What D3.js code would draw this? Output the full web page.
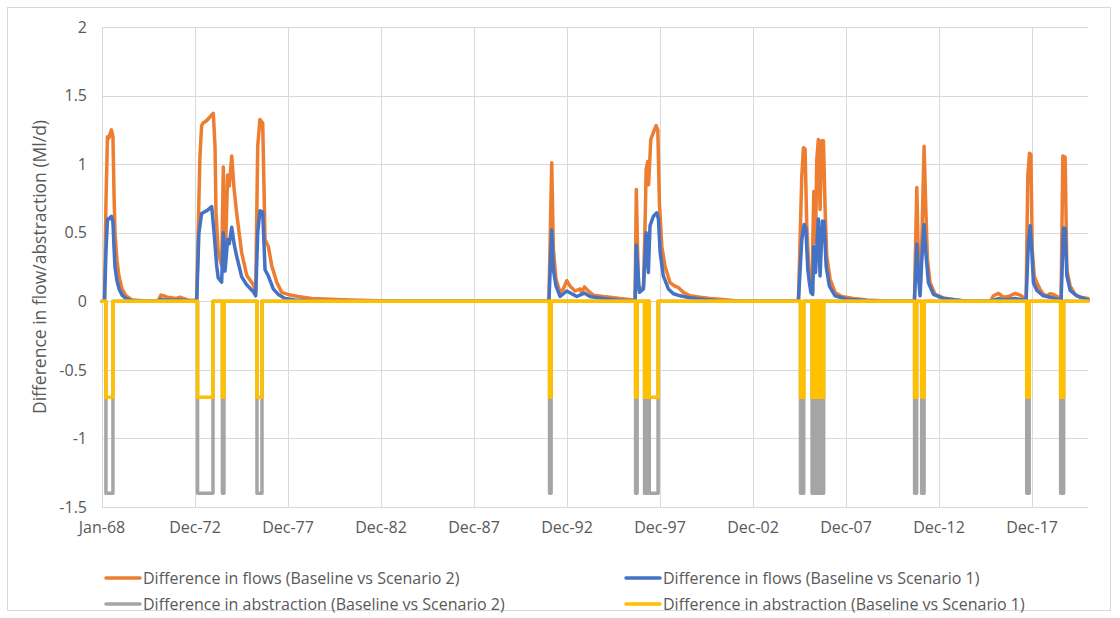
<!DOCTYPE html>
<html>
<head>
<meta charset="utf-8">
<script src="https://cdn.jsdelivr.net/npm/d3@7"></script>
<style>
  body { margin: 0; background: #fff; }
  svg { display: block; }
  text { font-family: "Open Sans", "Noto Sans", sans-serif; fill: #595959; }
</style>
</head>
<body>
<svg id="chart" width="1120" height="618"></svg>
<script>
// Difference in flows (Baseline vs Scenario 2), Ml/d
const flowScenario2 = [
  ["1968-01-01", 0], ["1968-02-19", 0], ["1968-03-18", 0.7], ["1968-04-17", 1.2], ["1968-05-16", 1.19],
  ["1968-06-05", 1.22], ["1968-07-04", 1.25], ["1968-08-03", 1.2], ["1968-08-23", 0.8], ["1968-09-12", 0.5],
  ["1968-10-21", 0.3], ["1968-12-01", 0.18], ["1969-01-28", 0.09], ["1969-04-15", 0.04], ["1969-08-11", 0.01],
  ["1970-08-01", 0], ["1971-01-04", 0], ["1971-03-03", 0.045], ["1971-05-01", 0.04], ["1971-06-28", 0.03],
  ["1971-10-05", 0.025], ["1971-12-22", 0.02], ["1972-03-10", 0.03], ["1972-05-28", 0.02], ["1972-08-15", 0.01],
  ["1972-12-20", 0.005], ["1973-02-03", 0.02], ["1973-03-18", 0.75], ["1973-04-06", 1.05], ["1973-05-10", 1.28],
  ["1973-06-05", 1.3], ["1973-07-24", 1.31], ["1973-09-18", 1.33], ["1973-11-24", 1.36], ["1973-12-25", 1.37],
  ["1974-01-28", 1.13], ["1974-02-16", 0.65], ["1974-04-01", 0.36], ["1974-06-07", 0.26], ["1974-07-10", 0.98],
  ["1974-08-12", 0.25], ["1974-10-03", 0.92], ["1974-11-04", 0.84], ["1974-12-22", 1.06], ["1975-02-06", 0.82],
  ["1975-03-28", 0.645], ["1975-07-04", 0.355], ["1975-10-12", 0.19], ["1976-02-19", 0.12], ["1976-04-06", 0.07],
  ["1976-05-15", 1.13], ["1976-06-28", 1.325], ["1976-08-21", 1.3], ["1976-10-06", 0.45], ["1976-12-09", 0.4],
  ["1977-02-15", 0.26], ["1977-05-22", 0.14], ["1977-08-28", 0.065], ["1978-01-01", 0.05], ["1978-07-15", 0.035],
  ["1979-04-09", 0.02], ["1981-05-01", 0.01], ["1984-01-01", 0],
  ["1991-12-01", 0], ["1992-01-10", 0.02], ["1992-03-04", 1.01], ["1992-04-06", 0.38], ["1992-05-28", 0.16],
  ["1992-08-15", 0.065], ["1992-10-19", 0.09], ["1992-12-25", 0.15], ["1993-02-28", 0.11], ["1993-06-06", 0.075],
  ["1993-09-12", 0.09], ["1993-10-15", 0.06], ["1993-12-06", 0.105], ["1994-02-22", 0.075], ["1994-06-01", 0.045],
  ["1994-12-13", 0.035], ["1995-04-22", 0.03], ["1995-11-06", 0.02], ["1996-07-24", 0.01], ["1996-08-27", 0.01],
  ["1996-09-20", 0.815], ["1996-11-01", 0.09], ["1997-02-07", 0.1], ["1997-03-10", 0.55], ["1997-04-01", 0.96],
  ["1997-05-03", 1.02], ["1997-05-20", 0.85], ["1997-07-01", 1.18], ["1997-08-21", 1.23], ["1997-10-13", 1.28],
  ["1997-11-16", 1.25], ["1997-12-17", 0.72], ["1998-02-03", 0.4], ["1998-04-07", 0.255], ["1998-07-15", 0.135],
  ["1998-10-22", 0.11], ["1998-12-25", 0.1], ["1999-04-01", 0.065], ["1999-08-12", 0.04], ["2000-02-25", 0.03],
  ["2000-09-08", 0.02], ["2001-03-22", 0.015], ["2002-04-19", 0],
  ["2005-06-07", 0], ["2005-08-13", 0.91], ["2005-09-15", 1.12], ["2005-10-16", 1.11], ["2005-11-19", 0.55],
  ["2006-01-09", 0.135], ["2006-02-27", 0.075], ["2006-04-05", 0.8], ["2006-05-10", 0.43], ["2006-06-03", 1.03],
  ["2006-07-04", 1.18], ["2006-08-07", 0.67], ["2006-09-09", 1.17], ["2006-10-12", 1.17], ["2006-11-14", 0.67],
  ["2006-12-16", 0.33], ["2007-02-20", 0.16], ["2007-05-28", 0.065], ["2007-10-07", 0.035], ["2008-05-22", 0.02],
  ["2009-02-11", 0.01], ["2010-05-13", 0],
  ["2011-09-02", 0], ["2011-10-19", 0.83], ["2011-11-19", 0.305], ["2011-12-22", 0.075], ["2012-01-25", 0.43],
  ["2012-03-10", 1.13], ["2012-04-13", 0.67], ["2012-05-15", 0.305], ["2012-07-06", 0.135], ["2012-10-13", 0.05],
  ["2013-03-25", 0.025], ["2013-12-13", 0.01], ["2014-06-27", 0],
  ["2015-09-28", 0], ["2015-12-01", 0.04], ["2016-03-09", 0.058], ["2016-06-15", 0.03], ["2016-09-21", 0.035],
  ["2017-01-31", 0.058], ["2017-05-09", 0.045], ["2017-08-15", 0.02], ["2017-09-03", 0.02], ["2017-10-06", 0.91],
  ["2017-11-09", 1.08], ["2017-12-06", 1.07], ["2018-01-01", 0.38], ["2018-02-09", 0.185], ["2018-04-01", 0.135],
  ["2018-06-06", 0.087], ["2018-08-09", 0.05], ["2018-10-15", 0.04], ["2018-12-19", 0.055], ["2019-02-22", 0.05],
  ["2019-06-01", 0.03], ["2019-07-22", 0.02], ["2019-08-25", 1.06], ["2019-10-09", 1.05], ["2019-11-12", 0.23],
  ["2020-01-16", 0.11], ["2020-04-22", 0.05], ["2020-08-01", 0.03], ["2020-12-31", 0.02]
];

// Difference in flows (Baseline vs Scenario 1), Ml/d
const flowScenario1 = [
  ["1968-01-01", 0], ["1968-02-19", 0], ["1968-03-18", 0.35], ["1968-04-17", 0.6], ["1968-05-16", 0.6],
  ["1968-07-04", 0.62], ["1968-08-03", 0.58], ["1968-08-23", 0.4], ["1968-09-12", 0.25], ["1968-10-21", 0.15],
  ["1968-12-01", 0.09], ["1969-01-28", 0.045], ["1969-04-15", 0.02], ["1969-08-11", 0.005], ["1970-08-01", 0],
  ["1971-01-04", 0], ["1971-03-03", 0.015], ["1971-05-01", 0.012], ["1971-10-05", 0.008], ["1972-03-10", 0.01],
  ["1972-08-15", 0.004], ["1972-12-20", 0], ["1973-02-03", 0.01], ["1973-03-18", 0.5], ["1973-05-10", 0.64],
  ["1973-08-16", 0.66], ["1973-11-24", 0.69], ["1974-01-09", 0.5], ["1974-03-01", 0.26], ["1974-04-01", 0.17],
  ["1974-06-07", 0.14], ["1974-07-10", 0.5], ["1974-08-12", 0.22], ["1974-10-03", 0.45], ["1974-11-04", 0.42],
  ["1974-12-22", 0.54], ["1975-02-06", 0.42], ["1975-03-28", 0.33], ["1975-07-04", 0.18], ["1975-10-12", 0.12],
  ["1976-02-19", 0.07], ["1976-04-06", 0.04], ["1976-05-15", 0.5], ["1976-06-28", 0.66], ["1976-08-21", 0.65],
  ["1976-10-06", 0.23], ["1976-12-09", 0.185], ["1977-03-16", 0.09], ["1977-06-22", 0.05], ["1977-11-03", 0.02],
  ["1978-05-16", 0.01], ["1979-09-01", 0],
  ["1991-12-01", 0], ["1992-01-10", 0], ["1992-03-04", 0.52], ["1992-04-06", 0.23], ["1992-05-28", 0.11],
  ["1992-08-15", 0.035], ["1992-12-25", 0.075], ["1993-04-01", 0.055], ["1993-07-09", 0.035], ["1993-12-06", 0.06],
  ["1994-03-25", 0.035], ["1994-12-13", 0.02], ["1995-09-03", 0.01], ["1996-08-27", 0], ["1996-09-20", 0.41],
  ["1996-11-19", 0.065], ["1997-02-07", 0.09], ["1997-04-01", 0.5], ["1997-05-15", 0.21], ["1997-06-16", 0.55],
  ["1997-08-21", 0.62], ["1997-10-27", 0.645], ["1997-11-28", 0.6], ["1998-01-01", 0.355], ["1998-03-04", 0.185],
  ["1998-06-12", 0.09], ["1998-09-19", 0.055], ["1999-01-28", 0.04], ["1999-08-12", 0.025], ["2000-07-04", 0.012],
  ["2001-06-01", 0],
  ["2005-06-07", 0], ["2005-08-13", 0.45], ["2005-09-28", 0.56], ["2005-11-01", 0.53], ["2005-12-09", 0.23],
  ["2006-02-06", 0.065], ["2006-03-16", 0.05], ["2006-04-05", 0.4], ["2006-05-10", 0.21], ["2006-07-04", 0.6],
  ["2006-08-07", 0.185], ["2006-09-21", 0.585], ["2006-10-25", 0.58], ["2006-12-04", 0.255], ["2007-02-06", 0.11],
  ["2007-05-28", 0.04], ["2008-01-15", 0.015], ["2009-02-11", 0.005], ["2010-01-01", 0],
  ["2011-09-02", 0], ["2011-10-19", 0.415], ["2011-11-19", 0.185], ["2011-12-22", 0.04], ["2012-01-25", 0.3],
  ["2012-03-10", 0.56], ["2012-04-13", 0.355], ["2012-06-03", 0.135], ["2012-09-10", 0.05], ["2013-03-25", 0.02],
  ["2014-02-15", 0.005], ["2014-06-27", 0],
  ["2015-09-28", 0], ["2016-03-09", 0.02], ["2016-06-15", 0.01], ["2017-01-31", 0.02], ["2017-08-15", 0.008],
  ["2017-09-03", 0.008], ["2017-10-18", 0.43], ["2017-11-21", 0.55], ["2017-12-25", 0.36], ["2018-01-25", 0.135],
  ["2018-04-01", 0.08], ["2018-08-09", 0.04], ["2018-12-19", 0.03], ["2019-07-03", 0.01], ["2019-07-22", 0.01],
  ["2019-09-06", 0.535], ["2019-10-09", 0.53], ["2019-11-12", 0.185], ["2020-01-16", 0.08], ["2020-05-25", 0.04],
  ["2020-12-31", 0.01]
];

// Periods of reduced abstraction (start, end)
const abstractionPeriods = [
  ["1968-03-18", "1968-08-03"], ["1973-02-19", "1973-12-19"], ["1974-06-22", "1974-07-22"],
  ["1976-05-01", "1976-08-07"], ["1992-01-22", "1992-02-21"], ["1996-09-06", "1996-10-06"],
  ["1997-03-01", "1997-03-22"], ["1997-04-08", "1997-04-25"], ["1997-05-10", "1997-05-24"],
  ["1997-06-01", "1997-11-22"],
  ["2005-07-18", "2005-09-20"],
  ["2006-03-03", "2006-03-22"], ["2006-04-12", "2006-05-01"], ["2006-05-19", "2006-06-10"],
  ["2006-06-28", "2006-07-18"], ["2006-08-07", "2006-08-27"], ["2006-09-16", "2006-10-16"],
  ["2011-09-06", "2011-10-16"], ["2012-01-22", "2012-03-10"], ["2017-09-15", "2017-11-03"],
  ["2019-07-13", "2019-09-10"]
];
// Size of the abstraction reduction in each scenario (Ml/d)
const abstractionScenario2 = -1.4;
const abstractionScenario1 = -0.7;

const periodStart = "1968-01-01";
const periodEnd = "2020-12-31";
const xTickDates = ["1968-01-01", "1972-12-31", "1977-12-31", "1982-12-31", "1987-12-31", "1992-12-30",
                    "1997-12-30", "2002-12-30", "2007-12-30", "2012-12-29", "2017-12-29"];
const yTicks = [-1.5, -1, -0.5, 0, 0.5, 1, 1.5, 2];

const seriesNames = [
  "Difference in flows (Baseline vs Scenario 2)",
  "Difference in flows (Baseline vs Scenario 1)",
  "Difference in abstraction (Baseline vs Scenario 2)",
  "Difference in abstraction (Baseline vs Scenario 1)"
];
const seriesColors = ["#ED7D31", "#4472C4", "#A5A5A5", "#FFC000"];

const parse = d3.utcParse("%Y-%m-%d");
const fmt = d3.utcFormat("%b-%y");

// Abstraction difference as a step series: 0 outside the periods, the reduction inside them
function stepSeries(periods, level) {
  const pts = [[parse(periodStart), 0]];
  periods.forEach(([s, e]) => {
    pts.push([parse(s), 0], [parse(s), level], [parse(e), level], [parse(e), 0]);
  });
  pts.push([parse(periodEnd), 0]);
  return pts;
}

const series = [
  flowScenario2.map(([d, v]) => [parse(d), v]),
  flowScenario1.map(([d, v]) => [parse(d), v]),
  stepSeries(abstractionPeriods, abstractionScenario2),
  stepSeries(abstractionPeriods, abstractionScenario1)
];

const svg = d3.select("#chart");
const plot = { left: 102, right: 1088, top: 27, bottom: 507 };

// chart frame
svg.append("rect").attr("x", 7.5).attr("y", 7.5).attr("width", 1103).attr("height", 603)
  .attr("fill", "#fff").attr("stroke", "#D9D9D9").attr("stroke-width", 1);

const x = d3.scaleUtc().domain([parse(periodStart), parse(periodEnd)]).range([plot.left, plot.right]);
const y = d3.scaleLinear().domain([-1.5, 2]).range([plot.bottom, plot.top]);

// horizontal gridlines
svg.append("g").selectAll("line").data(yTicks).join("line")
  .attr("x1", plot.left).attr("x2", plot.right)
  .attr("y1", d => Math.round(y(d)) + 0.5).attr("y2", d => Math.round(y(d)) + 0.5)
  .attr("stroke", "#D9D9D9").attr("stroke-width", 1);

// vertical gridlines
const xTicks = xTickDates.map(parse);
svg.append("g").selectAll("line").data(xTicks).join("line")
  .attr("x1", d => Math.round(x(d)) + 0.5).attr("x2", d => Math.round(x(d)) + 0.5)
  .attr("y1", plot.top).attr("y2", plot.bottom)
  .attr("stroke", "#D9D9D9").attr("stroke-width", 1);

// y tick labels
svg.append("g").selectAll("text").data(yTicks).join("text")
  .attr("x", 87).attr("y", d => y(d)).attr("dy", "0.36em")
  .attr("text-anchor", "end").style("font-size", "16px")
  .text(d => String(d));

// x tick labels
svg.append("g").selectAll("text").data(xTicks).join("text")
  .attr("x", d => x(d)).attr("y", 527).attr("dy", "0.36em")
  .attr("text-anchor", "middle").style("font-size", "16px")
  .text(d => fmt(d));

// y axis title
svg.append("text")
  .attr("transform", `translate(40,${(plot.top + plot.bottom) / 2}) rotate(-90)`)
  .attr("text-anchor", "middle").attr("dy", "0.36em").style("font-size", "17.5px")
  .text("Difference in flow/abstraction (Ml/d)");

// series lines
const line = d3.line().x(d => x(d[0])).y(d => y(d[1]));
svg.append("g").selectAll("path").data(series).join("path")
  .attr("d", line)
  .attr("fill", "none")
  .attr("stroke", (d, i) => seriesColors[i])
  .attr("stroke-width", 3.5)
  .attr("stroke-linejoin", "round")
  .attr("stroke-linecap", "round");

// legend
const legendPos = [[106, 578], [626, 578], [106, 604], [626, 604]];
const legend = svg.append("g").selectAll("g").data(seriesNames).join("g")
  .attr("transform", (d, i) => `translate(${legendPos[i][0]},${legendPos[i][1]})`);
legend.append("line").attr("x1", 0).attr("x2", 34).attr("y1", 0).attr("y2", 0)
  .attr("stroke", (d, i) => seriesColors[i]).attr("stroke-width", 3.5).attr("stroke-linecap", "round");
legend.append("text").attr("x", 37).attr("y", 0).attr("dy", "0.36em")
  .style("font-size", "16px").text(d => d);
</script>
</body>
</html>
